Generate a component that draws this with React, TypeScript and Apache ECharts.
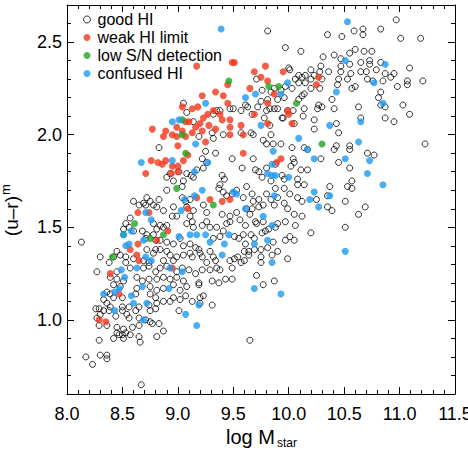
import React, { useEffect, useRef } from "react";
import * as echarts from "echarts";

// ---- axis ticks ----
const xMin = 8.0;
const xMax = 11.5;
const xStep = 0.5;
const yMin = 0.6;
const yMax = 2.7;
const yMajorTicks = [1.0, 1.5, 2.0, 2.5];
const yMinorTicks = [0.7, 0.8, 0.9, 1.1, 1.2, 1.3, 1.4, 1.6, 1.7, 1.8, 1.9, 2.1, 2.2, 2.3, 2.4, 2.6];

// ---- series names ----
const seriesNames = ["good HI", "weak HI limit", "low S/N detection", "confused HI"];

// ---- good HI (open circles), grouped by region ----
const goodUpper: number[][] = [
  [9.81,2.56],[10.59,2.56],[10.67,2.57],[10.67,2.54],[10.83,2.57],[10.97,2.62],[11.01,2.52],[11.19,2.52],[10.35,2.54],[10.48,2.53],
  [9.97,2.47],[10.11,2.45],[10.60,2.46],[10.68,2.45],[10.75,2.45],[10.55,2.44],[10.41,2.43],[10.47,2.41],[10.31,2.42],
  [10.73,2.40],[10.83,2.39],[10.65,2.39],[10.73,2.38],[10.29,2.37],[10.55,2.38],[10.47,2.37],
  [10.00,2.36],[10.01,2.35],[10.20,2.35],[10.36,2.34],[10.28,2.34],[10.47,2.34],[10.56,2.33],[10.65,2.34],[10.70,2.34],[11.09,2.36],[10.95,2.33],[10.79,2.35],[10.87,2.33],[10.09,2.32],[10.15,2.32],[10.23,2.32],
  [9.71,2.30],[10.06,2.30],[10.12,2.31],[10.20,2.30],[10.30,2.30],[10.45,2.30],[10.53,2.30],[10.44,2.27],[10.71,2.30],[10.76,2.29],[10.85,2.29],[10.92,2.31],[11.07,2.29],[11.07,2.27],[11.21,2.29],[10.98,2.26],[10.60,2.26],[10.57,2.25],[10.09,2.28],[10.15,2.28],[10.20,2.25],[10.28,2.25],[10.03,2.25],[9.97,2.26],[9.93,2.24],[9.87,2.25],
  [9.76,2.24],[9.84,2.23],[10.83,2.23],[10.81,2.20],[10.39,2.19],[10.14,2.22],[10.12,2.21],[10.09,2.19],[9.90,2.19],[9.96,2.20],[9.81,2.19],[9.75,2.18],[9.63,2.15],[9.57,2.13],
  [10.27,2.16],[10.30,2.15],[10.63,2.15],[10.83,2.16],[10.87,2.15],[11.03,2.16],[11.09,2.11],[10.41,2.14],[10.26,2.14],[10.14,2.14],[9.87,2.14],[9.83,2.14],[9.95,2.09],[10.23,2.08],[10.13,2.10],[10.65,2.09],[10.87,2.09],[10.95,2.07],
  [9.83,2.05],[9.57,2.01],[9.66,2.01],[10.23,2.03],[10.43,2.06],[10.45,2.01],
  [9.61,2.16],[9.72,2.15],[9.80,2.13],[9.90,2.14],[9.99,2.13],[10.04,2.13],[9.94,2.09],[9.78,2.09],[9.67,2.11],[9.50,2.14],[10.05,2.06],
  [9.05,2.17],[9.08,2.12],[9.14,2.07],[9.32,2.11],[9.47,2.14],[9.31,2.01],[9.38,2.13],[9.35,2.13],[9.19,1.99]
];

const goodMidCentre: number[][] = [
  [9.32,1.98],[9.41,2.0],[9.68,2.0],[9.77,1.97],[9.80,1.95],[9.86,1.95],[9.93,1.95],[10.03,1.93],[10.14,1.93],[9.25,1.91],[9.34,1.90],[9.22,1.87],[9.26,1.85],[9.23,1.82],[9.49,1.87],[9.58,1.82],[9.68,1.87],[9.70,1.81],[9.73,1.80],[9.80,1.82],[9.76,1.77],[9.88,1.84],[10.04,1.87],[10.05,1.85],[10.02,1.83],[10.11,1.81],[10.08,1.76],[9.96,1.76],[9.94,1.78],[9.84,1.75],[9.88,1.71],[9.96,1.71],[10.08,1.73],[10.14,1.73],
  [9.08,1.79],[9.12,1.78],[9.17,1.81],[9.14,1.77],[9.40,1.78],[9.42,1.76],[9.38,1.73],[9.37,1.71],[9.41,1.69],[9.44,1.67],[9.49,1.68],[9.62,1.72],[9.53,1.70],[9.59,1.66],[9.67,1.68],[9.68,1.64],[9.73,1.65],[9.80,1.68],[9.77,1.62],[9.84,1.65],[9.87,1.62],[9.90,1.66],[9.96,1.63],[10.01,1.68],[10.08,1.66],[10.12,1.64],[9.99,1.60],[10.05,1.57],[10.12,1.56],[10.06,1.51],[9.97,1.53],[9.90,1.52],
  [9.62,1.60],[9.67,1.60],[9.73,1.61],[9.70,1.53],[9.71,1.52],[9.77,1.53],[9.65,1.57],[9.53,1.58],[9.56,1.54],[9.47,1.56],[9.47,1.53],[9.44,1.52],[9.40,1.57],[9.26,1.58],[9.23,1.62],[9.11,1.65],[9.08,1.61],[9.14,1.59],[9.11,1.56],[9.13,1.53],[9.08,1.52],[9.26,1.53],[9.22,1.51],[9.61,1.51],
  [9.14,1.50],[9.29,1.50],[9.35,1.50],[9.41,1.48],[9.38,1.45],[9.32,1.44],[9.11,1.41],[9.16,1.39],[9.19,1.38],[9.11,1.36],[9.13,1.34],[9.20,1.36],[9.22,1.34],[9.29,1.37],[9.32,1.34],[9.34,1.32],[9.26,1.31],[9.47,1.32],[9.84,2.0]
];

const goodMidRight: number[][] = [
  [10.55,1.94],[10.55,1.92],[10.43,1.94],[10.41,1.92],[10.17,1.92],[10.29,1.87],[10.45,1.85],[10.55,1.82],[10.71,1.90],[10.77,1.89],[11.23,1.95],[10.17,1.81],[10.57,1.75],[10.53,1.72],[10.57,1.71],[10.37,1.72],[10.35,1.67],[10.25,1.65],[10.35,1.61],[10.39,1.59],[10.51,1.64],[10.69,1.61],[10.63,1.57]
];

const goodLowRight: number[][] = [
  [9.51,1.45],[9.55,1.44],[9.61,1.41],[9.64,1.37],[9.60,1.37],[9.69,1.38],[9.75,1.38],[9.81,1.39],[9.86,1.42],[9.90,1.37],[9.97,1.43],[10.01,1.45],[10.05,1.43],[9.99,1.33],[9.85,1.35],[9.76,1.47],[9.79,1.48],[9.82,1.49],[9.88,1.50],[10.20,1.47],[10.51,1.50],[9.51,1.33],[9.57,1.31],[9.60,1.32],[9.64,1.35],[9.75,1.31],[9.75,1.34],[9.87,1.21],[9.77,1.19],[9.71,1.24],[9.65,0.89],[9.54,1.34],[9.69,1.44],[9.66,1.46],[9.59,1.46]
];

const goodMidLeft: number[][] = [
  [8.83,1.93],[8.90,1.77],[8.93,1.79],[9.01,1.80],[8.96,1.75],[9.05,1.75],[8.90,1.70],[9.04,1.72],[8.72,1.66],[8.78,1.62],[8.83,1.65],[8.69,1.63],[8.75,1.64],[8.71,1.62],[8.65,1.62],[8.81,1.61],[8.87,1.59],[8.60,1.64],[9.04,1.66],[9.07,1.64],[8.96,1.61],[8.95,1.56],[8.99,1.56],[8.57,1.55],[8.53,1.52],[8.56,1.50],[8.51,1.49],[8.60,1.48],[8.68,1.48],[8.78,1.52],[8.84,1.51],[8.81,1.49],[8.87,1.50],[8.90,1.51],[8.72,1.46],[8.78,1.46],[8.71,1.44],[8.80,1.43],[8.84,1.43],[8.90,1.42],[8.96,1.41],[9.02,1.44],[9.05,1.40],[8.13,1.42],[8.30,1.34],[8.45,1.37],[8.48,1.35],[8.53,1.34],[8.60,1.33],[8.78,1.36],[8.72,1.38],[8.80,1.38],[8.90,1.37],[8.93,1.35],[8.99,1.34],[9.05,1.35],[8.87,1.32],[8.69,1.32],[8.74,1.31],[8.53,1.31],[8.38,1.31],[8.42,1.34],[8.84,1.38],[8.96,1.32]
];

const goodLowLeft: number[][] = [
  [8.27,1.26],[8.45,1.26],[8.57,1.28],[8.69,1.28],[8.74,1.29],[8.80,1.26],[8.84,1.28],[8.90,1.29],[8.99,1.26],[9.04,1.28],[8.39,1.23],[8.45,1.22],[8.51,1.21],[8.63,1.23],[8.68,1.21],[8.74,1.22],[8.81,1.22],[8.87,1.23],[8.93,1.22],[8.99,1.23],[9.05,1.21],[8.42,1.19],[8.48,1.18],[8.63,1.17],[8.75,1.18],[8.81,1.16],[8.87,1.17],[8.96,1.19],[9.02,1.16],[8.36,1.15],[8.39,1.14],[8.42,1.12],[8.50,1.12],[8.62,1.14],[8.75,1.14],[8.80,1.12],[8.96,1.12],[9.02,1.11],[9.07,1.13],[8.33,1.11],[8.36,1.09],[8.39,1.07],[8.50,1.07],[8.56,1.07],[8.65,1.07],[8.74,1.08],[8.81,1.09],[8.87,1.10],[8.93,1.10],[8.26,1.06],[8.29,1.06],[8.33,1.05],[8.38,1.05],[8.50,1.05],[8.54,1.03],[8.62,1.05],[8.75,1.05],[8.80,1.06],[9.01,1.05],[8.27,1.01],[8.30,1.03],[8.44,1.02],[8.56,1.01],[8.65,1.01],[8.71,1.00],[8.75,0.99],[8.77,0.98],[8.83,0.98],[8.29,0.97],[8.36,0.97],[8.45,0.96],[8.51,0.95],[8.59,0.96],[8.65,0.97],[8.45,0.93],[8.47,0.92],[8.50,0.92],[8.53,0.93],[8.57,0.92],[8.65,0.91],[8.81,0.91],[8.87,0.94],[8.29,0.89],[8.42,0.90],[8.51,0.90],[8.66,0.88],[8.17,0.80],[8.23,0.76],[8.30,0.81],[8.36,0.81],[8.36,0.79],[8.67,0.65]
];

const goodLowCentre: number[][] = [
  [9.10,1.27],[9.16,1.25],[9.22,1.27],[9.29,1.27],[9.35,1.28],[9.38,1.27],[9.49,1.28],[9.19,1.20],[9.19,1.19],[9.31,1.21],[9.37,1.20],[9.43,1.22],[9.49,1.22],[9.13,1.10],[9.20,1.12],[9.23,1.13],[9.20,1.09],[9.31,1.08],[9.08,1.18]
];

// ---- weak HI limit (red) ----
const weakHI: number[][] = [
  [9.17,2.37],[9.49,2.39],[9.45,2.27],[9.34,2.23],[9.22,2.21],[9.04,2.15],[9.13,2.14],[9.18,2.15],[9.27,2.11],[9.32,2.13],[9.38,2.11],[9.23,2.09],[9.10,2.07],[9.20,2.06],[9.47,2.08],[9.47,2.04],[9.47,2.00],[8.77,2.03],[8.89,2.02],[8.99,2.04],[9.04,2.02],[9.16,2.04],[9.07,2.07],[8.87,1.99],[8.95,2.00],[8.99,1.99],[9.07,1.99],[9.13,2.01],[9.22,2.02],[9.28,2.05],[9.34,2.03],[9.40,2.08],[9.00,1.94],[9.09,1.89],[8.76,1.86],[8.82,1.85],[8.86,1.84],[8.89,1.86],[8.95,1.83],[9.00,1.83],[9.05,1.86],[9.00,1.80],[8.94,1.79],[8.71,1.79],[9.17,1.66],[9.09,1.60],[8.64,1.58],[8.74,1.58],[9.29,1.65],[9.47,1.65],[9.40,1.64],[9.45,2.17],[9.41,2.21],
  [9.51,2.39],[9.69,2.34],[9.79,2.37],[9.75,2.31],[9.81,2.29],[9.95,2.34],[9.65,2.25],[9.87,2.22],[10.27,2.31],[10.25,2.27],[9.81,2.17],[9.69,2.11],[9.99,2.13],[10.00,2.11],[10.03,2.06],[9.57,2.05],[9.59,2.00],[9.81,2.06],[9.59,1.90],[9.93,1.87],[9.89,1.85],[9.25,1.96],
  [8.91,1.48],[8.81,1.43],[8.64,1.41],[8.57,1.38],[8.63,1.35],[8.65,1.32],[8.39,1.25],[8.47,1.14],[8.29,1.00],[8.35,0.99],[8.95,1.28]
];

// ---- low S/N detection (green) ----
const lowSN: number[][] = [
  [9.46,2.29],[9.04,2.08],[9.04,2.00],[9.07,1.90],[8.99,1.71],[9.32,1.62],[9.82,2.26],[9.91,2.26],[10.07,2.17],[10.30,1.95],[8.61,1.52],[8.51,1.46],[8.75,1.44],[8.87,1.46],[8.41,1.34]
];

// ---- confused HI (blue) ----
const confusedHI: number[][] = [
  [9.39,2.57],[9.25,2.17],[8.95,2.07],[9.01,2.08],[9.16,1.95],[8.67,1.85],[8.95,1.86],[9.15,1.80],[9.27,1.85],[9.22,1.70],[9.15,1.67],[9.06,1.65],[9.03,1.59],[8.71,1.58],[8.76,1.54],[9.50,1.69],
  [10.53,2.61],[10.51,2.40],[10.87,2.38],[9.61,2.20],[9.70,2.22],[9.93,2.22],[9.99,2.28],[10.43,2.23],[10.77,2.28],[10.85,2.17],[9.75,2.05],[10.37,2.05],[10.65,2.07],[10.09,1.98],[10.17,1.92],[9.86,1.91],[10.23,1.87],[10.51,1.87],[10.73,1.86],[10.63,1.96],[10.71,1.79],[10.85,1.73],[9.85,1.84],[9.81,1.79],[9.85,1.78],[9.88,1.78],[10.00,1.77],[10.23,1.69],[10.19,1.65],[10.27,1.61],[10.37,1.67],[9.87,1.67],[9.61,1.60],[9.77,1.56],[9.53,1.68],[9.85,1.51],
  [9.11,1.46],[9.25,1.46],[9.29,1.42],[9.46,1.46],[9.42,1.41],[9.40,1.35],[9.69,1.41],[9.81,1.43],[9.85,1.31],[9.69,1.17],[9.93,1.14],[10.51,1.37],[9.17,1.46],[9.01,1.45],
  [8.51,1.46],[8.58,1.48],[8.69,1.43],[8.53,1.40],[8.56,1.41],[8.71,1.34],[8.76,1.32],[8.63,1.28],[8.49,1.27],[8.52,1.23],[8.33,1.14],[8.43,1.15],[8.47,1.17],[8.58,1.13],[8.60,1.09],[8.43,1.05],[8.69,1.00],[8.68,1.18],[8.72,1.09],[8.92,1.17],[8.93,1.28],[9.04,1.26],[9.07,1.03],[9.17,0.97],[9.19,1.08]
];

const goodHI = [
  ...goodUpper, ...goodMidCentre, ...goodMidRight, ...goodLowRight,
  ...goodMidLeft, ...goodLowLeft, ...goodLowCentre,
];

const FONT = "'Liberation Sans', Arial, Helvetica, sans-serif";
const RED = "#f2361a";
const GREEN = "#1fa51f";
const BLUE = "#1e98f0";

export default function App() {
  const ref = useRef<HTMLDivElement>(null);

  useEffect(() => {
    if (!ref.current) return;
    const chart = echarts.init(ref.current, null, { renderer: "svg" });

    const yAxisBase = (position: string, ticks: number[], len: number, labels: boolean, line: boolean) => ({
      type: "value",
      min: yMin,
      max: yMax,
      position,
      axisLine: { show: line, lineStyle: { color: "#000", width: 1 } },
      axisTick: { show: true, inside: true, length: len, customValues: ticks, lineStyle: { color: "#000", width: 1 } },
      axisLabel: {
        show: labels,
        customValues: ticks,
        margin: 5,
        fontSize: 18,
        color: "#000",
        fontFamily: FONT,
        formatter: (v: number) => v.toFixed(1),
      },
      splitLine: { show: false },
    });

    const xAxisBase = (position: string, labels: boolean) => ({
      type: "value",
      min: xMin,
      max: xMax,
      interval: xStep,
      position,
      axisLine: { show: true, lineStyle: { color: "#000", width: 1 } },
      axisTick: { show: true, inside: true, length: 7, lineStyle: { color: "#000", width: 1 } },
      minorTick: { show: true, splitNumber: 5, length: 4, lineStyle: { color: "#000", width: 1 } },
      axisLabel: {
        show: labels,
        margin: 11,
        fontSize: 18,
        color: "#000",
        fontFamily: FONT,
        formatter: (v: number) => v.toFixed(1),
      },
      splitLine: { show: false },
      minorSplitLine: { show: false },
    });

    const filled = (name: string, data: number[][], color: string, z: number) => ({
      name,
      type: "scatter",
      data,
      symbol: "circle",
      symbolSize: 7,
      itemStyle: { color, borderWidth: 0 },
      emphasis: { disabled: true },
      z,
    });

    chart.setOption({
      animation: false,
      backgroundColor: "#fff",
      grid: { left: 67, right: 13, top: 5, bottom: 59, containLabel: false, outerBoundsMode: "none" },
      xAxis: [xAxisBase("bottom", true), xAxisBase("top", false)],
      yAxis: [
        yAxisBase("left", yMajorTicks, 7, true, true),
        yAxisBase("left", yMinorTicks, 4, false, false),
        yAxisBase("right", yMajorTicks, 7, false, true),
        yAxisBase("right", yMinorTicks, 4, false, false),
      ],
      legend: {
        orient: "vertical",
        left: 83,
        top: 11,
        itemWidth: 11,
        itemHeight: 7,
        itemGap: 1,
        padding: 0,
        textStyle: { fontSize: 16, color: "#000", fontFamily: FONT, lineHeight: 17 },
        data: [
          { name: seriesNames[0], icon: "circle", itemStyle: { color: "rgba(0,0,0,0)", borderColor: "#000", borderWidth: 1 } },
          { name: seriesNames[1], icon: "circle", itemStyle: { color: RED, borderWidth: 0 } },
          { name: seriesNames[2], icon: "circle", itemStyle: { color: GREEN, borderWidth: 0 } },
          { name: seriesNames[3], icon: "circle", itemStyle: { color: BLUE, borderWidth: 0 } },
        ],
        selectedMode: false,
      },
      series: [
        {
          name: seriesNames[0],
          type: "scatter",
          data: goodHI,
          symbol: "circle",
          symbolSize: 6,
          itemStyle: { color: "rgba(0,0,0,0)", borderColor: "#000", borderWidth: 1 },
          emphasis: { disabled: true },
          z: 2,
        },
        filled(seriesNames[1], weakHI, RED, 3),
        filled(seriesNames[2], lowSN, GREEN, 4),
        filled(seriesNames[3], confusedHI, BLUE, 5),
      ],
      graphic: [
        {
          type: "text",
          x: 226,
          y: 437,
          style: { text: "log M", fontSize: 20, fontFamily: FONT, fill: "#000", align: "left", verticalAlign: "middle" },
        },
        {
          type: "text",
          x: 277,
          y: 442.5,
          style: { text: "star", fontSize: 12, fontFamily: FONT, fill: "#000", align: "left", verticalAlign: "middle" },
        },
        {
          type: "group",
          x: 18,
          y: 196,
          rotation: Math.PI / 2,
          children: [
            {
              type: "text",
              x: 0,
              y: -6.6,
              style: { text: "(u\u2013r)", fontSize: 19, fontFamily: FONT, fill: "#000", align: "right", verticalAlign: "middle" },
            },
            {
              type: "text",
              x: 1,
              y: -12.8,
              style: { text: "m", fontSize: 13, fontFamily: FONT, fill: "#000", align: "left", verticalAlign: "middle" },
            },
          ],
        },
      ],
    });

    return () => chart.dispose();
  }, []);

  return (
    <div
      ref={ref}
      style={{ position: "absolute", left: 0, top: 0, width: 468, height: 453 }}
    />
  );
}
